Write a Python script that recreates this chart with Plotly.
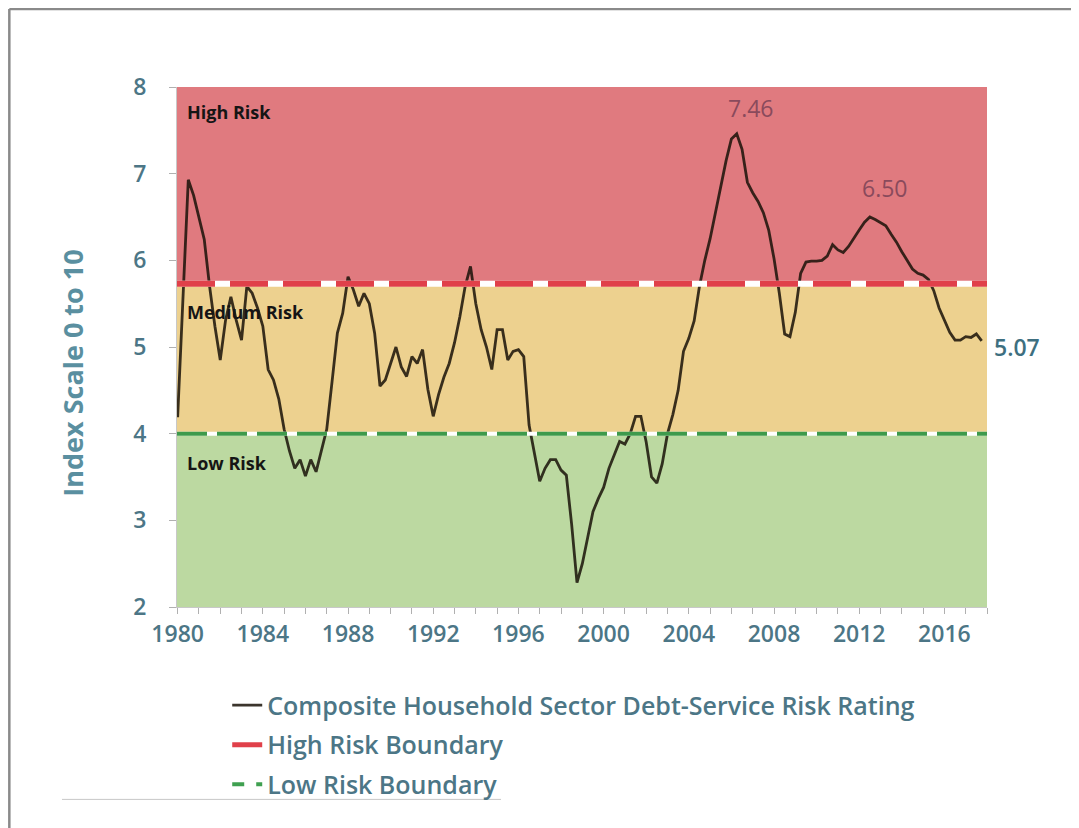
import plotly.graph_objects as go

# Composite household debt-service risk rating (decimal years)
dates = [
    1980.00, 1980.50, 1980.75, 1981.25, 1981.50, 1981.75, 1982.00, 1982.25, 1982.50, 1982.75,
    1983.00, 1983.25, 1983.50, 1983.75, 1984.00, 1984.25, 1984.50, 1984.75, 1985.00, 1985.25,
    1985.50, 1985.75, 1986.00, 1986.25, 1986.50, 1986.75, 1987.00, 1987.25, 1987.50, 1987.75,
    1988.00, 1988.25, 1988.50, 1988.75, 1989.00, 1989.25, 1989.50, 1989.75, 1990.00, 1990.25,
    1990.50, 1990.75, 1991.00, 1991.25, 1991.50, 1991.75, 1992.00, 1992.25, 1992.50, 1992.75,
    1993.00, 1993.25, 1993.50, 1993.75, 1994.00, 1994.25, 1994.50, 1994.75, 1995.00, 1995.25,
    1995.50, 1995.75, 1996.00, 1996.25, 1996.50, 1996.75, 1997.00, 1997.25, 1997.50, 1997.75,
    1998.00, 1998.25, 1998.50, 1998.75, 1999.00, 1999.25, 1999.50, 1999.75, 2000.00, 2000.25,
    2000.50, 2000.75, 2001.00, 2001.25, 2001.50, 2001.75, 2002.00, 2002.25, 2002.50, 2002.75,
    2003.00, 2003.25, 2003.50, 2003.75, 2004.00, 2004.25, 2004.50, 2004.75, 2005.00, 2005.25,
    2005.50, 2005.75, 2006.00, 2006.25, 2006.50, 2006.75, 2007.00, 2007.25, 2007.50, 2007.75,
    2008.00, 2008.25, 2008.50, 2008.75, 2009.00, 2009.25, 2009.50, 2009.75, 2010.00, 2010.25,
    2010.50, 2010.75, 2011.00, 2011.25, 2011.50, 2011.75, 2012.00, 2012.25, 2012.50, 2012.75,
    2013.00, 2013.25, 2013.50, 2013.75, 2014.00, 2014.25, 2014.50, 2014.75, 2015.00, 2015.25,
    2015.50, 2015.75, 2016.00, 2016.25, 2016.50, 2016.75, 2017.00, 2017.25, 2017.50, 2017.75,
]
rating = [
    4.19, 6.93, 6.75, 6.24, 5.70, 5.24, 4.85, 5.31, 5.58, 5.31,
    5.08, 5.70, 5.62, 5.45, 5.24, 4.74, 4.62, 4.40, 4.05, 3.80,
    3.60, 3.70, 3.51, 3.70, 3.56, 3.80, 4.05, 4.60, 5.16, 5.39,
    5.81, 5.66, 5.47, 5.62, 5.50, 5.16, 4.55, 4.62, 4.80, 5.00,
    4.77, 4.66, 4.89, 4.81, 4.97, 4.51, 4.20, 4.45, 4.65, 4.81,
    5.05, 5.35, 5.70, 5.93, 5.50, 5.20, 5.00, 4.74, 5.20, 5.20,
    4.85, 4.95, 4.97, 4.89, 4.10, 3.75, 3.45, 3.60, 3.70, 3.70,
    3.58, 3.52, 2.95, 2.28, 2.50, 2.80, 3.10, 3.25, 3.38, 3.60,
    3.75, 3.91, 3.88, 4.00, 4.20, 4.20, 3.90, 3.50, 3.43, 3.65,
    4.00, 4.22, 4.50, 4.95, 5.10, 5.30, 5.70, 6.00, 6.25, 6.55,
    6.85, 7.15, 7.40, 7.46, 7.28, 6.90, 6.78, 6.68, 6.55, 6.35,
    6.02, 5.62, 5.15, 5.12, 5.40, 5.85, 5.98, 5.99, 5.99, 6.00,
    6.05, 6.18, 6.12, 6.09, 6.16, 6.26, 6.35, 6.44, 6.50, 6.47,
    6.43, 6.40, 6.30, 6.21, 6.10, 6.00, 5.90, 5.85, 5.83, 5.78,
    5.65, 5.45, 5.30, 5.17, 5.08, 5.08, 5.12, 5.11, 5.15, 5.07,
]

high_boundary = 5.73
low_boundary = 4.0
y_min, y_max = 2, 8

tick_years = [1980, 1984, 1988, 1992, 1996, 2000, 2004, 2008, 2012, 2016]
tick_labels = [str(y) for y in tick_years]
y_ticks = [2, 3, 4, 5, 6, 7, 8]

TEAL = "#4C7686"
FONT = "Open Sans"

fig = go.Figure()

fig.add_trace(go.Scatter(
    x=dates, y=rating, mode="lines",
    line=dict(color="rgba(25,18,8,0.85)", width=2.8),
    name="Composite Household Sector Debt-Service Risk Rating",
    legendgroup="rating", hoverinfo="x+y",
))
# legend-only entries for the boundaries (drawn below as shapes)
fig.add_trace(go.Scatter(x=[None], y=[None], mode="lines",
                         line=dict(color="#E0404A", width=5),
                         name="High Risk Boundary", legendgroup="high"))
fig.add_trace(go.Scatter(x=[None], y=[None], mode="lines",
                         line=dict(color="#3FA050", width=4, dash="dash"),
                         name="Low Risk Boundary", legendgroup="low"))

# risk bands
bands = [(high_boundary, y_max, "#E07A7F"), (low_boundary, high_boundary, "#EDD18F"),
         (y_min, low_boundary, "#BCD9A1")]
for y0, y1, col in bands:
    fig.add_shape(type="rect", xref="paper", yref="y", x0=0, x1=1, y0=y0, y1=y1,
                  fillcolor=col, line_width=0, layer="below")

# boundary lines: white under-stroke with coloured dashes on top
for yv, col, w, dash in [(high_boundary, "#E0404A", 6, "38px,15px"),
                         (low_boundary, "#3E9A4C", 4, "30px,10px")]:
    fig.add_shape(type="line", xref="paper", yref="y", x0=0, x1=1, y0=yv, y1=yv,
                  line=dict(color="white", width=w))
    fig.add_shape(type="line", xref="paper", yref="y", x0=0, x1=1, y0=yv, y1=yv,
                  line=dict(color=col, width=w, dash=dash))

# frame of the original slide (page sits 8px in from the window edge)
fig.add_shape(type="line", xref="paper", yref="paper", x0=-0.207, x1=1.12, y0=1.150, y1=1.150,
              line=dict(color="#8A8A8A", width=2.5))
fig.add_shape(type="line", xref="paper", yref="paper", x0=-0.207, x1=-0.207, y0=1.150, y1=-0.43,
              line=dict(color="#8A8A8A", width=2.5))
fig.add_shape(type="line", xref="paper", yref="paper", x0=-0.142, x1=0.40, y0=-0.370, y1=-0.370,
              line=dict(color="#C8C8C8", width=1))

# zone labels
for txt, yv in [("High Risk", 7.71), ("Medium Risk", 5.40), ("Low Risk", 3.66)]:
    fig.add_annotation(x=0.010, xref="paper", y=yv, yref="y", text=txt, showarrow=False,
                       xanchor="left", font=dict(family=FONT, size=18, color="#151515", weight=700))

# value callouts
fig.add_annotation(x=2006.9, y=7.76, text="7.46", showarrow=False,
                   font=dict(family=FONT, size=23, color="#8A4A5C"))
fig.add_annotation(x=2013.2, y=6.84, text="6.50", showarrow=False,
                   font=dict(family=FONT, size=23, color="#8A4A5C"))
fig.add_annotation(x=1.006, xref="paper", y=rating[-1] - 0.07, yref="y", text=f"{rating[-1]:.2f}",
                   showarrow=False, xanchor="left",
                   font=dict(family=FONT, size=23, color="#3E6F80", weight=600))

# y-axis title
fig.add_annotation(x=-0.130, xref="paper", xanchor="center", y=0.45, yref="paper",
                   text="Index Scale 0 to 10", textangle=-90, showarrow=False,
                   font=dict(family=FONT, size=27, color="#5A8FA0", weight=700))

fig.update_layout(
    width=1071, height=820,
    paper_bgcolor="white", plot_bgcolor="white",
    margin=dict(l=169, r=92, t=79, b=221),
    showlegend=True,
    legend=dict(x=0.062, y=-0.145, xanchor="left", yanchor="top",
                font=dict(family=FONT, size=25, color=TEAL, weight=600),
                bgcolor="rgba(0,0,0,0)", itemwidth=30, tracegroupgap=4),
    xaxis=dict(range=[1979.97, 2018.0], tickvals=tick_years, ticktext=tick_labels,
               ticks="outside", ticklen=6, tickcolor="#B0B0B0", showgrid=False, zeroline=False,
               showline=True, linecolor="#C8C8C8",
               minor=dict(dtick=1, tick0=1980, ticks="outside", ticklen=6, tickcolor="#B0B0B0"),
               tickfont=dict(family=FONT, size=23, color=TEAL, weight=600)),
    yaxis=dict(range=[y_min, y_max], tickvals=y_ticks, ticks="outside", ticklen=7,
               tickcolor="#B0B0B0", showgrid=False, zeroline=False, showline=True,
               linecolor="#C8C8C8", ticklabelstandoff=18,
               tickfont=dict(family=FONT, size=23, color=TEAL, weight=600)),
)

fig.write_html("out.html")
